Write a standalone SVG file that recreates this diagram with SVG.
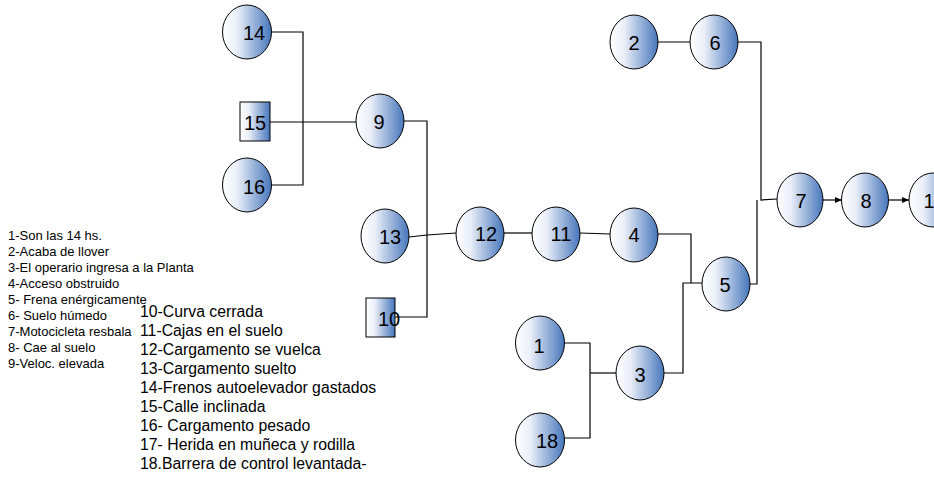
<svg xmlns="http://www.w3.org/2000/svg" width="934" height="477" viewBox="0 0 934 477">
<style>
.n{stroke:#000;stroke-width:1;fill:url(#g)}
.t{font-family:"Liberation Sans",Arial,sans-serif;font-size:20px;text-anchor:middle;fill:#000}
.c{fill:none;stroke:#000;stroke-width:1.2}
.l1{font-family:"Liberation Sans",Arial,sans-serif;font-size:13px;fill:#000}
.l2{font-family:"Liberation Sans",Arial,sans-serif;font-size:15.8px;fill:#000}
</style>
<defs>
<linearGradient id="g" x1="0" y1="0" x2="1" y2="0">
<stop offset="0" stop-color="#ffffff"/>
<stop offset="0.3" stop-color="#e9eef8"/>
<stop offset="1" stop-color="#4676bb"/>
</linearGradient>
<marker id="a" markerWidth="8" markerHeight="8" refX="7" refY="4" orient="auto" markerUnits="userSpaceOnUse">
<path d="M0,1 L7,4 L0,7 Z" fill="#000"/>
</marker>
</defs>
<rect width="934" height="477" fill="#fff"/>
<g id="connectors">
<polyline class="c" points="272,32 303,32 303,185 272,185"/>
<line class="c" x1="270" y1="122" x2="357" y2="122"/>
<polyline class="c" points="404,121 427,121 427,317 395,317"/>
<polyline class="c" points="409,237 427,235 456,233"/>
<line class="c" x1="504" y1="233" x2="532" y2="233"/>
<line class="c" x1="580" y1="233" x2="610" y2="234"/>
<polyline class="c" points="658,234 691,234 691,283"/>
<polyline class="c" points="664,373 683,373 683,283 702,283"/>
<polyline class="c" points="750,284 757,284 757,200"/>
<line class="c" x1="658" y1="42" x2="691" y2="42"/>
<polyline class="c" points="738,42 761,42 761,200 777,199"/>
<line class="c" x1="822" y1="200" x2="842" y2="200" marker-end="url(#a)"/>
<line class="c" x1="889" y1="200" x2="909" y2="200" marker-end="url(#a)"/>
<polyline class="c" points="565,343 590,343 590,438 565,438"/>
<line class="c" x1="590" y1="373" x2="616" y2="373"/>
</g>
<g id="n14"><ellipse class="n" cx="247" cy="32" rx="24.5" ry="27"/><text class="t" x="254" y="40">14</text></g>
<g id="n15"><rect class="n" x="240" y="102" width="30" height="39"/><text class="t" x="255" y="130">15</text></g>
<g id="n16"><ellipse class="n" cx="247" cy="185" rx="24.5" ry="27"/><text class="t" x="254" y="194">16</text></g>
<g id="n9"><ellipse class="n" cx="380" cy="121" rx="24" ry="27"/><text class="t" x="379" y="129">9</text></g>
<g id="n13"><ellipse class="n" cx="385" cy="236" rx="24" ry="27"/><text class="t" x="390" y="244">13</text></g>
<g id="n10"><rect class="n" x="366" y="298" width="29" height="39"/><text class="t" x="389" y="326">10</text></g>
<g id="n12"><ellipse class="n" cx="480" cy="234" rx="24" ry="27"/><text class="t" x="486" y="241">12</text></g>
<g id="n11"><ellipse class="n" cx="556" cy="234" rx="24" ry="27"/><text class="t" x="561" y="241">11</text></g>
<g id="n4"><ellipse class="n" cx="634" cy="235" rx="24" ry="27"/><text class="t" x="634" y="242">4</text></g>
<g id="n5"><ellipse class="n" cx="726" cy="284" rx="24" ry="27"/><text class="t" x="725" y="292">5</text></g>
<g id="n2"><ellipse class="n" cx="634" cy="42" rx="24" ry="27"/><text class="t" x="634" y="50">2</text></g>
<g id="n6"><ellipse class="n" cx="714" cy="42" rx="24" ry="27"/><text class="t" x="715" y="50">6</text></g>
<g id="n7"><ellipse class="n" cx="800" cy="200" rx="23" ry="27"/><text class="t" x="801" y="208">7</text></g>
<g id="n8"><ellipse class="n" cx="865" cy="200" rx="23.5" ry="27"/><text class="t" x="866" y="208">8</text></g>
<g id="n17"><ellipse class="n" cx="933" cy="200" rx="24" ry="27"/><text class="t" x="929" y="208">1</text></g>
<g id="n1"><ellipse class="n" cx="540" cy="343" rx="24.5" ry="27"/><text class="t" x="539" y="353">1</text></g>
<g id="n3"><ellipse class="n" cx="640" cy="373" rx="24" ry="27"/><text class="t" x="640" y="382">3</text></g>
<g id="n18"><ellipse class="n" cx="540" cy="440" rx="24.5" ry="27"/><text class="t" x="547" y="448">18</text></g>
<g id="legend1">
<text class="l1" x="8" y="240">1-Son las 14 hs.</text>
<text class="l1" x="8" y="256">2-Acaba de llover</text>
<text class="l1" x="8" y="272">3-El operario ingresa a la Planta</text>
<text class="l1" x="8" y="288">4-Acceso obstruido</text>
<text class="l1" x="8" y="304">5- Frena enérgicamente</text>
<text class="l1" x="8" y="320">6- Suelo húmedo</text>
<text class="l1" x="8" y="336">7-Motocicleta resbala</text>
<text class="l1" x="8" y="352">8- Cae al suelo</text>
<text class="l1" x="8" y="368">9-Veloc. elevada</text>
</g>
<g id="legend2">
<text class="l2" x="140" y="317">10-Curva cerrada</text>
<text class="l2" x="140" y="336">11-Cajas en el suelo</text>
<text class="l2" x="140" y="355">12-Cargamento se vuelca</text>
<text class="l2" x="140" y="374">13-Cargamento suelto</text>
<text class="l2" x="140" y="393">14-Frenos autoelevador gastados</text>
<text class="l2" x="140" y="412">15-Calle inclinada</text>
<text class="l2" x="140" y="431">16- Cargamento pesado</text>
<text class="l2" x="140" y="450">17- Herida en muñeca y rodilla</text>
<text class="l2" x="140" y="469">18.Barrera de control levantada-</text>
</g>
</svg>
